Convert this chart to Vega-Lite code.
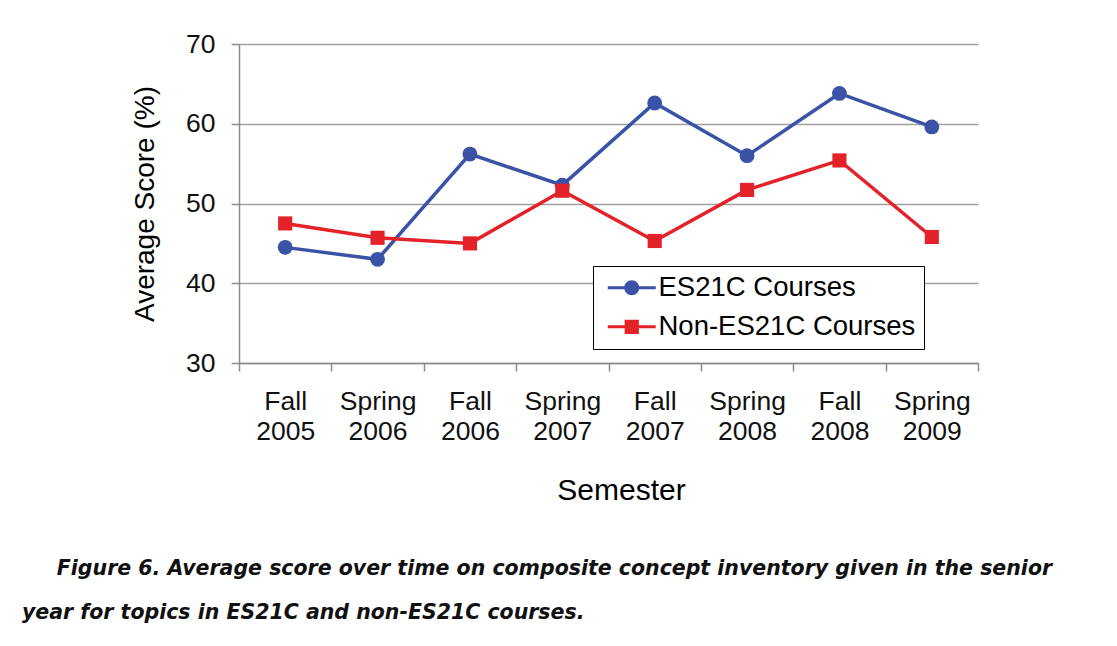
{
  "$schema": "https://vega.github.io/schema/vega-lite/v6.json",
  "width": 739,
  "height": 319,
  "autosize": {"type": "none"},
  "padding": {"left": 239, "top": 44, "right": 139, "bottom": 283},
  "background": "white",
  "config": {
    "font": "Liberation Sans",
    "view": {"stroke": null}
  },
  "title": {
    "text": ["\u200b\u2003\u2002\u2009Figure 6. Average score over time on composite concept inventory given in the senior", "year for topics in ES21C and non-ES21C courses."],
    "orient": "bottom",
    "anchor": "start",
    "frame": "group",
    "dx": -217,
    "offset": 53,
    "font": "DejaVu Sans",
    "fontSize": 20.5,
    "fontWeight": "bold",
    "fontStyle": "italic",
    "color": "#111111",
    "lineHeight": 44,
    "baseline": "top"
  },
  "data": {
    "values": [
      {"semester": "Fall 2005", "series": "ES21C Courses", "score": 44.5},
      {"semester": "Spring 2006", "series": "ES21C Courses", "score": 43.0},
      {"semester": "Fall 2006", "series": "ES21C Courses", "score": 56.2},
      {"semester": "Spring 2007", "series": "ES21C Courses", "score": 52.3},
      {"semester": "Fall 2007", "series": "ES21C Courses", "score": 62.6},
      {"semester": "Spring 2008", "series": "ES21C Courses", "score": 56.0},
      {"semester": "Fall 2008", "series": "ES21C Courses", "score": 63.8},
      {"semester": "Spring 2009", "series": "ES21C Courses", "score": 59.6},
      {"semester": "Fall 2005", "series": "Non-ES21C Courses", "score": 47.5},
      {"semester": "Spring 2006", "series": "Non-ES21C Courses", "score": 45.7},
      {"semester": "Fall 2006", "series": "Non-ES21C Courses", "score": 45.0},
      {"semester": "Spring 2007", "series": "Non-ES21C Courses", "score": 51.6},
      {"semester": "Fall 2007", "series": "Non-ES21C Courses", "score": 45.3},
      {"semester": "Spring 2008", "series": "Non-ES21C Courses", "score": 51.7},
      {"semester": "Fall 2008", "series": "Non-ES21C Courses", "score": 55.4},
      {"semester": "Spring 2009", "series": "Non-ES21C Courses", "score": 45.8}
    ]
  },
  "encoding": {
    "x": {
      "field": "semester",
      "type": "nominal",
      "sort": null,
      "scale": {"paddingInner": 0, "paddingOuter": 0},
      "axis": {
        "title": "Semester",
        "titleFont": "Liberation Sans",
        "titleFontSize": 30,
        "titleFontWeight": "normal",
        "titleColor": "#000000",
        "titlePadding": 31,
        "titleX": 382,
        "labelAngle": 0,
        "labelExpr": "split(datum.label, ' ')",
        "labelLineHeight": 30,
        "labelFontSize": 26.5,
        "labelColor": "#111111",
        "labelPadding": 17,
        "labelBaseline": "top",
        "tickBand": "extent",
        "tickSize": 8,
        "tickColor": "#8c8c8c",
        "tickWidth": 1.5,
        "domainColor": "#8c8c8c",
        "domainWidth": 1.5,
        "grid": false
      }
    },
    "y": {
      "field": "score",
      "type": "quantitative",
      "scale": {"domain": [30, 70], "nice": false, "zero": false},
      "axis": {
        "title": "Average Score (%)",
        "titleFont": "Liberation Sans",
        "titleFontSize": 28,
        "titleFontWeight": "normal",
        "titleColor": "#000000",
        "titlePadding": 26,
        "values": [30, 40, 50, 60, 70],
        "labelFontSize": 26.5,
        "labelColor": "#111111",
        "labelPadding": 16,
        "tickSize": 8,
        "tickColor": "#8c8c8c",
        "tickWidth": 1.5,
        "domainColor": "#8c8c8c",
        "domainWidth": 1.5,
        "grid": true,
        "gridColor": "#a0a0a0",
        "gridWidth": 1.5
      }
    }
  },
  "layer": [
    {
      "mark": {"type": "line", "strokeWidth": 3.5},
      "encoding": {
        "color": {
          "field": "series",
          "type": "nominal",
          "scale": {"domain": ["ES21C Courses", "Non-ES21C Courses"], "range": ["#3a53a6", "#e4222a"]},
          "legend": null
        }
      }
    },
    {
      "mark": {"type": "point", "filled": true, "opacity": 1, "strokeWidth": 0},
      "encoding": {
        "color": {
          "field": "series",
          "type": "nominal",
          "scale": {"domain": ["ES21C Courses", "Non-ES21C Courses"], "range": ["#3a53a6", "#e4222a"]},
          "legend": null
        },
        "shape": {
          "field": "series",
          "type": "nominal",
          "scale": {"domain": ["ES21C Courses", "Non-ES21C Courses"], "range": ["circle", "square"]},
          "legend": null
        },
        "size": {
          "field": "series",
          "type": "nominal",
          "scale": {"domain": ["ES21C Courses", "Non-ES21C Courses"], "range": [220, 200]},
          "legend": null
        }
      }
    },
    {
      "mark": {"type": "point", "filled": true, "opacity": 0, "strokeWidth": 0, "size": 225},
      "encoding": {
        "fill": {
          "field": "series",
          "type": "nominal",
          "scale": {"domain": ["ES21C Courses", "Non-ES21C Courses"], "range": ["#3a53a6", "#e4222a"]},
          "legend": {
            "title": null,
            "orient": "none",
            "legendX": 354,
            "legendY": 222,
            "strokeColor": "#000000",
            "fillColor": "white",
            "padding": 8,
            "symbolSize": 225,
            "symbolOpacity": 1,
            "symbolStrokeWidth": 0,
            "symbolOffset": 17,
            "labelOffset": 13,
            "labelFont": "Liberation Sans",
            "labelFontSize": 27.5,
            "labelColor": "#000000",
            "labelLimit": 400,
            "rowPadding": 10,
            "symbolLimit": 0
          }
        },
        "shape": {
          "field": "series",
          "type": "nominal",
          "scale": {
            "domain": ["ES21C Courses", "Non-ES21C Courses"],
            "range": [
              "M-3.2,-0.2H3.2V0.2H-3.2Z M1,0A1,1,0,1,1,-1,0A1,1,0,1,1,1,0Z",
              "M-3.2,-0.2H3.2V0.2H-3.2Z M-0.95,-0.95H0.95V0.95H-0.95Z"
            ]
          },
          "legend": {
            "title": null,
            "orient": "none",
            "legendX": 354,
            "legendY": 222,
            "strokeColor": "#000000",
            "fillColor": "white",
            "padding": 8,
            "symbolSize": 225,
            "symbolOpacity": 1,
            "symbolStrokeWidth": 0,
            "symbolOffset": 17,
            "labelOffset": 13,
            "labelFont": "Liberation Sans",
            "labelFontSize": 27.5,
            "labelColor": "#000000",
            "labelLimit": 400,
            "rowPadding": 10,
            "symbolLimit": 0
          }
        }
      }
    }
  ],
  "resolve": {"scale": {"shape": "independent", "fill": "independent", "size": "independent"}}
}
